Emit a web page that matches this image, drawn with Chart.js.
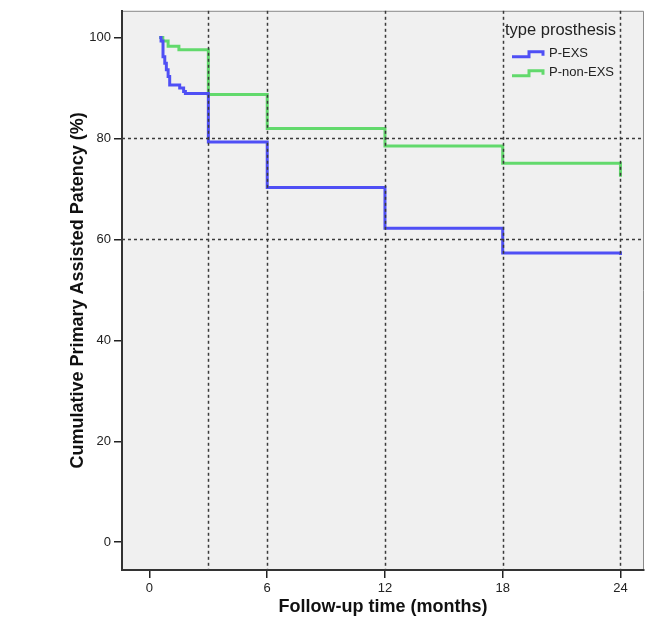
<!DOCTYPE html>
<html>
<head>
<meta charset="utf-8">
<script src="https://cdn.jsdelivr.net/npm/chart.js@4.4.0/dist/chart.umd.min.js"></script>
<style>
    html, body { margin: 0; padding: 0; background: #ffffff; }
    #wrap { width: 650px; height: 627px; }
</style>
</head>
<body>
<div id="wrap">
    <canvas id="kmChart" width="650" height="627"></canvas>
</div>
<script>
// survival data (months, %)
const exsTimes = [0.5, 0.59, 0.69, 0.78, 0.86, 0.95, 1.03, 1.54, 1.74, 1.83, 3, 6, 12, 18, 24];
const exsSurv  = [100, 99.3, 96.2, 94.9, 93.6, 92.3, 90.6, 90.0, 89.3, 88.9, 79.3, 70.3, 62.2, 57.3, 56.9];

const nonExsTimes = [0.5, 0.68, 0.95, 1.5, 3, 6, 12, 18, 24];
const nonExsSurv  = [100, 99.3, 98.3, 97.6, 88.7, 82.0, 78.5, 75.1, 72.4];

const groupLabels = ['P-EXS', 'P-non-EXS'];
const legendTitle = 'type prosthesis';

const xTicks = [0, 6, 12, 18, 24];
const yTicks = [0, 20, 40, 60, 80, 100];

// dashed reference lines
const refX = [3, 6, 12, 18, 24];
const refY = [60, 80];

const toPoints = (xs, ys) => xs.map((x, i) => ({ x: x, y: ys[i] }));

const FONT = '"Liberation Sans", Arial, sans-serif';

const plotFrame = {
    id: 'plotFrame',
    beforeDraw(chart) {
        const { ctx, chartArea: a } = chart;
        ctx.save();
        ctx.fillStyle = '#f0f0f0';
        ctx.fillRect(a.left, a.top, a.right - a.left, a.bottom - a.top);
        ctx.strokeStyle = '#8a8a8a';
        ctx.lineWidth = 1;
        ctx.beginPath();
        ctx.moveTo(a.left, a.top + 0.5);
        ctx.lineTo(a.right - 0.5, a.top + 0.5);
        ctx.lineTo(a.right - 0.5, a.bottom);
        ctx.stroke();
        ctx.restore();
    },
    afterDatasetsDraw(chart) {
        const { ctx, chartArea: a, scales } = chart;
        ctx.save();
        ctx.strokeStyle = '#3a3a3a';
        ctx.lineWidth = 1.5;
        ctx.setLineDash([3, 3]);
        refX.forEach(v => {
            const px = Math.round(scales.x.getPixelForValue(v)) + 0.5;
            ctx.beginPath();
            ctx.moveTo(px, a.top);
            ctx.lineTo(px, a.bottom);
            ctx.stroke();
        });
        refY.forEach(v => {
            const py = Math.round(scales.y.getPixelForValue(v)) + 0.5;
            ctx.beginPath();
            ctx.moveTo(a.left, py);
            ctx.lineTo(a.right, py);
            ctx.stroke();
        });
        ctx.restore();
    }
};

const stepLegend = {
    id: 'stepLegend',
    afterDraw(chart) {
        const { ctx, chartArea: a } = chart;
        const x0 = a.right - 139;
        ctx.save();
        ctx.fillStyle = '#222';
        ctx.textBaseline = 'alphabetic';
        ctx.font = '16.5px ' + FONT;
        ctx.fillText(legendTitle, x0, a.top + 24);

        ctx.font = '13px ' + FONT;
        ctx.textBaseline = 'middle';
        chart.data.datasets.forEach((ds, i) => {
            const cy = a.top + 43 + i * 19;
            ctx.strokeStyle = ds.borderColor;
            ctx.lineWidth = 3;
            ctx.beginPath();
            ctx.moveTo(x0 + 7, cy + 3);
            ctx.lineTo(x0 + 24, cy + 3);
            ctx.lineTo(x0 + 24, cy - 2);
            ctx.lineTo(x0 + 38, cy - 2);
            ctx.lineTo(x0 + 38, cy + 2);
            ctx.stroke();
            ctx.fillStyle = '#222';
            ctx.fillText(ds.label, x0 + 44, cy);
        });
        ctx.restore();
    }
};

function renderKmChart() {
    const ctx = document.getElementById('kmChart').getContext('2d');

    new Chart(ctx, {
        type: 'line',
        data: {
            datasets: [
                {
                    label: groupLabels[0],
                    data: toPoints(exsTimes, exsSurv),
                    borderColor: '#4f4ff5',
                    borderWidth: 3,
                    stepped: 'before',
                    pointRadius: 0,
                    fill: false
                },
                {
                    label: groupLabels[1],
                    data: toPoints(nonExsTimes, nonExsSurv),
                    borderColor: '#62d96c',
                    borderWidth: 3,
                    stepped: 'before',
                    pointRadius: 0,
                    fill: false
                }
            ]
        },

        options: {
            responsive: false,
            animation: false,
            layout: { padding: { left: 67, right: 6, top: 7, bottom: 0 } },

            scales: {
                x: {
                    type: 'linear',
                    min: -1.4,
                    max: 25.2,
                    afterBuildTicks: s => { s.ticks = xTicks.map(v => ({ value: v })); },
                    afterFit: s => { s.height = 57; },
                    grid: { drawOnChartArea: false, drawTicks: true, tickLength: 8, color: '#222', lineWidth: 1.5 },
                    border: { display: true, color: '#333', width: 2 },
                    ticks: { color: '#222', font: { family: FONT, size: 13 }, padding: 3, maxRotation: 0 },
                    title: {
                        display: true,
                        text: 'Follow-up time (months)',
                        color: '#111',
                        font: { family: FONT, size: 18, weight: 'bold' },
                        padding: { top: 0, bottom: 9 }
                    }
                },
                y: {
                    type: 'linear',
                    min: -5.5,
                    max: 105.3,
                    afterBuildTicks: s => { s.ticks = yTicks.map(v => ({ value: v })); },
                    afterFit: s => { s.width = 55; },
                    grid: { drawOnChartArea: false, drawTicks: true, tickLength: 8, color: '#222', lineWidth: 1.5 },
                    border: { display: true, color: '#333', width: 2 },
                    ticks: { color: '#222', font: { family: FONT, size: 13 }, padding: 3 },
                    title: {
                        display: true,
                        text: 'Cumulative Primary Assisted Patency (%)',
                        color: '#111',
                        font: { family: FONT, size: 18, weight: 'bold' },
                        padding: { top: 0, bottom: 0 }
                    }
                }
            },

            plugins: {
                legend: { display: false },
                tooltip: { enabled: false }
            }
        },
        plugins: [plotFrame, stepLegend]
    });
}

renderKmChart();
</script>
</body>
</html>
